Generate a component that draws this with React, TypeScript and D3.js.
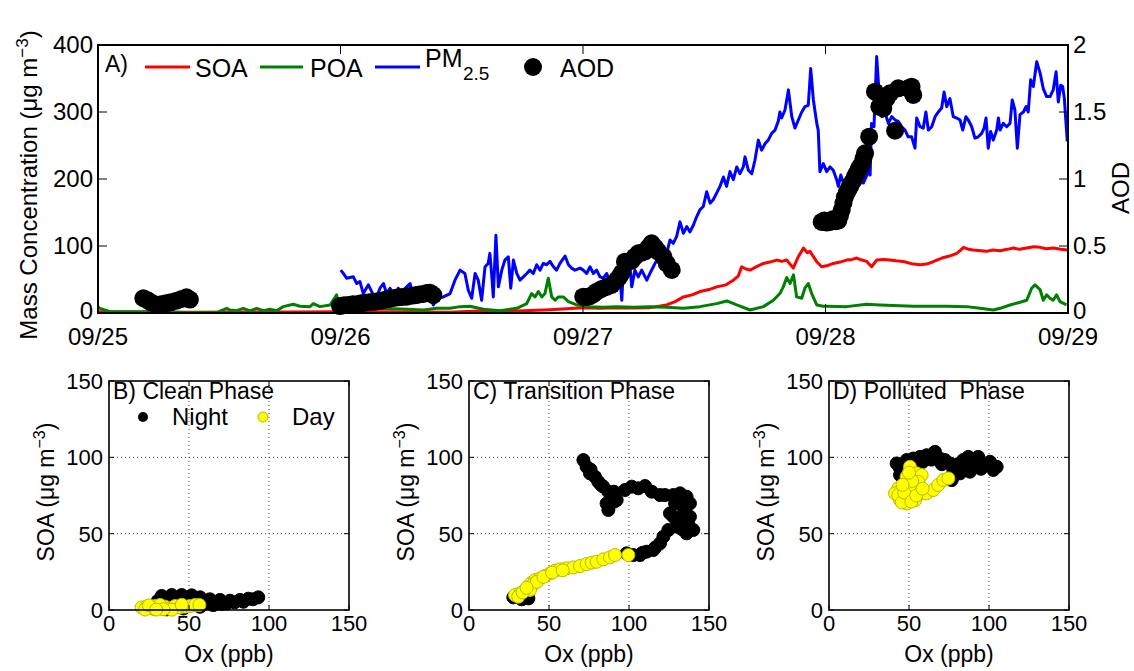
import React from 'react';
import * as d3 from 'd3';

// ---------- DATA ----------
const dateLabels = ['09/25', '09/26', '09/27', '09/28', '09/29'];
const massTicks = [0, 100, 200, 300, 400];
const aodTicks = [0, 0.5, 1, 1.5, 2];
const scatterTicks = [0, 50, 100, 150];

// [days since 09/25 00:00, µg m-3]
const pm25: [number, number][] = [
  [1.001, 64], [1.012, 59], [1.025, 52], [1.053, 54], [1.067, 44], [1.08, 47], [1.094, 29], [1.115, 42],
  [1.135, 27], [1.149, 24], [1.163, 37], [1.177, 44], [1.19, 29], [1.204, 37], [1.225, 24], [1.238, 37],
  [1.252, 32], [1.273, 39], [1.287, 44], [1.301, 24], [1.321, 19], [1.342, 22], [1.362, 29], [1.383, 12],
  [1.397, 22], [1.424, 24], [1.452, 29], [1.472, 49], [1.493, 64], [1.513, 59], [1.527, 34], [1.541, 22],
  [1.555, 59], [1.568, 49], [1.582, 19], [1.596, 69], [1.609, 74], [1.616, 89], [1.623, 59], [1.63, 24],
  [1.641, 116], [1.651, 39], [1.665, 64], [1.678, 79], [1.692, 84], [1.702, 37], [1.713, 79], [1.727, 59],
  [1.74, 49], [1.754, 54], [1.768, 59], [1.781, 64], [1.795, 59], [1.809, 72], [1.823, 64], [1.836, 74],
  [1.85, 72], [1.864, 77], [1.878, 69], [1.891, 64], [1.905, 74], [1.926, 85], [1.94, 72], [1.953, 67],
  [1.967, 64], [1.988, 67], [2.001, 64], [2.015, 59], [2.029, 69], [2.043, 59], [2.056, 64], [2.07, 54],
  [2.084, 52], [2.098, 59], [2.111, 44], [2.125, 49], [2.139, 59], [2.153, 49], [2.16, 19], [2.166, 64],
  [2.18, 59], [2.194, 69], [2.201, 39], [2.214, 64], [2.228, 54], [2.242, 64], [2.256, 54], [2.263, 49],
  [2.276, 59], [2.29, 69], [2.304, 79], [2.318, 84], [2.331, 84], [2.345, 89], [2.359, 109], [2.372, 104],
  [2.386, 114], [2.4, 136], [2.414, 119], [2.428, 129], [2.441, 121], [2.455, 131], [2.469, 144], [2.482, 154],
  [2.496, 159], [2.51, 181], [2.524, 164], [2.537, 169], [2.551, 179], [2.565, 189], [2.579, 203], [2.592, 189],
  [2.606, 211], [2.62, 199], [2.634, 218], [2.647, 208], [2.661, 218], [2.668, 233], [2.682, 213], [2.696, 208],
  [2.709, 228], [2.723, 258], [2.737, 243], [2.751, 253], [2.764, 258], [2.778, 268], [2.792, 273], [2.805, 286],
  [2.812, 300], [2.819, 291], [2.833, 303], [2.847, 333], [2.861, 293], [2.874, 276], [2.888, 288], [2.902, 300],
  [2.915, 308], [2.929, 310], [2.939, 365], [2.95, 318], [2.964, 283], [2.97, 273], [2.977, 211], [2.991, 223],
  [3.005, 211], [3.019, 218], [3.032, 213], [3.046, 199], [3.053, 189], [3.063, 206], [3.074, 194], [3.087, 189],
  [3.101, 199], [3.115, 189], [3.129, 196], [3.142, 203], [3.156, 194], [3.177, 211], [3.184, 206], [3.19, 283],
  [3.2, 278], [3.211, 383], [3.222, 323], [3.232, 293], [3.245, 300], [3.259, 283], [3.273, 293], [3.287, 288],
  [3.3, 286], [3.314, 278], [3.328, 273], [3.341, 263], [3.355, 263], [3.369, 246], [3.376, 291], [3.39, 278],
  [3.403, 276], [3.414, 300], [3.424, 273], [3.438, 278], [3.452, 293], [3.465, 300], [3.479, 306], [3.489, 330],
  [3.5, 308], [3.513, 320], [3.527, 293], [3.541, 291], [3.555, 288], [3.566, 273], [3.579, 293], [3.589, 288],
  [3.603, 278], [3.616, 261], [3.63, 263], [3.644, 268], [3.654, 276], [3.662, 291], [3.671, 246], [3.681, 271],
  [3.692, 258], [3.706, 273], [3.713, 291], [3.72, 273], [3.733, 283], [3.747, 278], [3.761, 283], [3.77, 318],
  [3.781, 303], [3.791, 246], [3.802, 296], [3.816, 300], [3.827, 308], [3.836, 300], [3.846, 348], [3.857, 338],
  [3.871, 375], [3.885, 358], [3.898, 335], [3.912, 323], [3.926, 323], [3.939, 333], [3.951, 360], [3.96, 315],
  [3.97, 340], [3.978, 338], [3.985, 320], [3.997, 256],
];

const soa: [number, number][] = [
  [0, 2], [0.2, 1.5], [0.4, 1], [0.6, 1.5], [0.8, 1.5], [1.0, 2], [1.2, 2], [1.452, 1], [1.589, 3.5], [1.727, 3],
  [1.864, 5], [2.001, 8], [2.07, 7], [2.139, 8], [2.21, 7.5], [2.276, 8], [2.345, 12], [2.38, 17], [2.414, 24],
  [2.45, 27], [2.482, 32], [2.52, 35], [2.551, 39], [2.59, 42], [2.62, 49], [2.64, 55], [2.654, 69], [2.67, 66],
  [2.689, 64], [2.72, 70], [2.744, 74], [2.77, 76], [2.799, 79], [2.82, 77], [2.84, 79], [2.867, 67], [2.888, 84],
  [2.909, 97], [2.925, 90], [2.936, 92], [2.963, 77], [2.984, 69], [3.01, 71], [3.032, 74], [3.06, 76], [3.087, 79],
  [3.11, 80], [3.129, 82], [3.15, 79], [3.17, 77], [3.19, 69], [3.211, 79], [3.24, 80], [3.266, 79], [3.29, 78],
  [3.321, 77], [3.34, 75], [3.362, 73], [3.39, 72], [3.417, 73], [3.44, 76], [3.459, 79], [3.48, 82], [3.5, 84],
  [3.52, 86], [3.541, 89], [3.555, 93], [3.569, 98], [3.59, 95], [3.609, 94], [3.64, 93], [3.664, 92], [3.69, 94],
  [3.72, 93], [3.75, 95], [3.775, 97], [3.80, 95], [3.83, 97], [3.86, 99], [3.885, 98], [3.91, 96], [3.94, 97],
  [3.97, 95], [3.997, 94],
];

const poa: [number, number][] = [
  [0, 9], [0.008, 7], [0.049, 2], [0.104, 2], [0.242, 2], [0.379, 0.5], [0.489, 0.5], [0.531, 7], [0.544, 4.5],
  [0.572, 3.5], [0.599, 7], [0.627, 3], [0.654, 7], [0.682, 3.5], [0.709, 5.5], [0.737, 3.5], [0.764, 9.5],
  [0.805, 13], [0.833, 10], [0.874, 9.5], [0.888, 14], [0.915, 9.5], [0.957, 12], [0.984, 27], [0.991, 14],
  [1.05, 8], [1.15, 7], [1.25, 6], [1.342, 4.5], [1.397, 7], [1.452, 7], [1.493, 9.5], [1.534, 10], [1.589, 5.5],
  [1.658, 3.5], [1.727, 7], [1.768, 14], [1.788, 29], [1.802, 24], [1.816, 32], [1.83, 24], [1.843, 29],
  [1.857, 52], [1.871, 24], [1.885, 19], [1.898, 24], [1.919, 24], [1.94, 17], [1.974, 12], [2.029, 9.5],
  [2.084, 8.5], [2.139, 9.5], [2.208, 8.5], [2.276, 9.5], [2.345, 8.5], [2.414, 7], [2.482, 9.5], [2.551, 14],
  [2.593, 18], [2.634, 12], [2.689, 4.5], [2.744, 9.5], [2.785, 19], [2.812, 29], [2.826, 39], [2.84, 53],
  [2.854, 44], [2.868, 57], [2.881, 24], [2.902, 22], [2.915, 37], [2.929, 44], [2.943, 29], [2.964, 12],
  [2.991, 10], [3.005, 10], [3.087, 9.5], [3.17, 13], [3.225, 12], [3.362, 10], [3.5, 10], [3.582, 9.5],
  [3.637, 7], [3.692, 4.5], [3.72, 7], [3.761, 12], [3.802, 16], [3.83, 19], [3.85, 37], [3.864, 42],
  [3.885, 35], [3.898, 19], [3.912, 27], [3.926, 22], [3.939, 19], [3.953, 27], [3.967, 17], [3.994, 12],
];

// [days since 09/25 00:00, AOD]
const aod: [number, number][] = [
  [0.187, 0.11], [0.205, 0.095], [0.222, 0.075], [0.242, 0.062], [0.26, 0.065], [0.28, 0.072], [0.3, 0.08],
  [0.324, 0.092], [0.345, 0.105], [0.365, 0.117], [0.379, 0.1],
  [0.998, 0.052], [1.015, 0.058], [1.032, 0.06], [1.05, 0.066], [1.067, 0.065], [1.085, 0.072], [1.101, 0.077],
  [1.118, 0.08], [1.135, 0.082], [1.152, 0.088], [1.17, 0.092], [1.187, 0.1], [1.204, 0.107], [1.221, 0.112],
  [1.238, 0.117], [1.255, 0.12], [1.273, 0.122], [1.29, 0.128], [1.307, 0.132], [1.325, 0.138], [1.342, 0.142],
  [1.355, 0.15], [1.369, 0.152], [1.383, 0.134],
  [2.001, 0.122], [2.015, 0.12], [2.029, 0.125], [2.043, 0.14], [2.056, 0.159], [2.077, 0.18], [2.098, 0.195],
  [2.118, 0.21], [2.139, 0.246], [2.15, 0.27], [2.16, 0.3], [2.173, 0.383], [2.187, 0.385], [2.201, 0.39],
  [2.214, 0.42], [2.228, 0.445], [2.242, 0.45], [2.256, 0.46], [2.27, 0.49], [2.283, 0.52], [2.297, 0.49],
  [2.31, 0.458], [2.331, 0.42], [2.345, 0.371], [2.366, 0.321],
  [2.984, 0.68], [2.995, 0.69], [3.005, 0.675], [3.019, 0.68], [3.03, 0.7], [3.042, 0.685], [3.053, 0.69],
  [3.06, 0.73], [3.067, 0.77], [3.074, 0.82], [3.08, 0.865], [3.088, 0.9], [3.094, 0.92], [3.101, 0.943],
  [3.108, 0.97], [3.115, 0.99], [3.122, 1.02], [3.129, 1.042], [3.136, 1.07], [3.142, 1.09], [3.149, 1.104],
  [3.156, 1.15], [3.163, 1.192], [3.18, 1.316], [3.204, 1.652], [3.222, 1.54], [3.238, 1.527], [3.252, 1.602],
  [3.266, 1.639], [3.287, 1.361], [3.3, 1.677], [3.341, 1.677], [3.355, 1.689], [3.362, 1.627],
];

// scatter: [Ox ppb, SOA µg m-3]
const cleanNight: [number, number][] = [
  [32.9, 9.2], [39.2, 9.8], [45.4, 9.8], [51.7, 9.6], [56.9, 8.3], [63.1, 7.0], [69.4, 6.6], [75.6, 6.1],
  [81.9, 6.6], [87.1, 7.4], [93.3, 8.3], [27.7, 1.0], [36.0, 0.4], [46.5, 1.0], [56.9, 2.1], [65.2, 3.2],
  [73.5, 4.3], [84.0, 5.4], [67.3, 5.4], [56.9, 5.4], [48.5, 5.4], [30.5, 6.0], [36.5, 7.0], [42.5, 7.5],
  [48.0, 8.0], [53.5, 6.5], [60.0, 4.5], [70.5, 4.0], [78.5, 5.0], [90.0, 7.0], [40.0, 4.0], [34.0, 3.5],
  [62.0, 6.2], [44.0, 2.5], [52.0, 3.5],
];
const cleanDay: [number, number][] = [
  [20.4, 1.7], [23.5, 2.2], [26.7, 1.1], [28.8, 2.6], [31.9, 1.1], [35.0, 2.2], [38.1, 1.1], [41.3, 2.6],
  [44.4, 1.7], [47.5, 2.2], [50.6, 2.6], [53.8, 3.3], [56.5, 3.3], [39.2, 0.2], [31.9, 3.3], [22.5, 0.3],
  [25.0, 3.0], [34.0, 0.5], [45.5, 3.4], [29.5, 0.3],
];
const transNight: [number, number][] = [
  [71.5, 98.2], [73.5, 93.8], [75.6, 89.5], [78.75, 87.3], [80.8, 84.0], [83.9, 80.8], [87.1, 77.5], [90.6, 77.5],
  [92.3, 72.0], [86.0, 69.8], [87.1, 65.5], [90.6, 70.9], [97.5, 78.6], [101.7, 80.8], [105.8, 79.7], [110.0, 81.2],
  [114.2, 77.5], [119.4, 75.3], [122.5, 75.3], [127.7, 75.3], [131.9, 76.4], [136.0, 74.2], [138.1, 69.8],
  [134.4, 64.4], [138.1, 61.1], [140.2, 52.4], [136.0, 50.2], [131.9, 58.9], [127.7, 61.1], [125.6, 63.3],
  [128.8, 69.8], [129.8, 54.6], [124.6, 52.4], [121.5, 48.0], [119.4, 43.7], [115.2, 39.3], [111.0, 38.2],
  [106.9, 36.0], [102.7, 36.0], [98.5, 37.1], [27.7, 8.3], [32.9, 7.0], [37.1, 7.6], [76.0, 92.0], [82.5, 82.0],
  [133.5, 71.5], [137.0, 57.0], [133.0, 53.0], [116.5, 41.0], [108.5, 37.5],
];
const transDay: [number, number][] = [
  [28.75, 9.8], [31.9, 10.9], [35.0, 13.1], [37.1, 15.3], [39.2, 17.9], [41.3, 19.6], [44.4, 20.7], [47.5, 22.3],
  [50.6, 24.0], [53.8, 25.8], [56.9, 26.6], [61.0, 27.3], [65.2, 27.9], [69.4, 28.8], [73.5, 30.1], [76.7, 31.0],
  [79.8, 31.6], [83.9, 33.2], [88.1, 34.5], [91.25, 36.0], [99.6, 36.0], [40.2, 17.0], [38.1, 13.1], [30.8, 8.7],
  [42.3, 18.4], [46.5, 21.7], [33.5, 11.5], [36.0, 14.5], [52.0, 24.5], [58.5, 26.0],
];
const pollNight: [number, number][] = [
  [42.3, 96.0], [44.4, 88.4], [48.5, 98.2], [52.7, 99.2], [56.9, 100.3], [61.0, 101.4], [66.25, 103.6], [69.4, 99.2],
  [72.5, 98.2], [75.6, 96.0], [77.7, 91.7], [76.7, 85.1], [79.8, 93.8], [83.9, 98.2], [87.1, 100.3], [90.2, 98.2],
  [93.3, 100.3], [96.5, 96.0], [100.6, 97.1], [104.8, 93.8], [102.7, 91.7], [88.1, 90.6], [81.9, 89.5], [44.4, 92.7],
  [53.75, 96.0], [46.5, 95.0], [58.5, 97.0], [64.0, 98.5], [70.5, 95.5], [80.5, 95.5], [85.5, 96.0], [92.0, 96.5],
  [98.0, 95.0], [95.0, 92.5], [86.0, 93.5], [78.5, 88.5],
];
const pollDay: [number, number][] = [
  [43.3, 79.7], [41.25, 76.4], [44.4, 72.0], [48.5, 69.8], [50.6, 74.2], [49.6, 80.8], [48.5, 87.3], [50.6, 93.8],
  [54.8, 89.5], [57.9, 88.4], [55.8, 84.0], [52.7, 78.6], [56.9, 76.4], [61.0, 76.4], [65.2, 78.6], [68.3, 81.9],
  [71.5, 85.1], [74.6, 86.2], [46.5, 74.2], [53.75, 72.0], [43.3, 75.3], [45.5, 70.5], [47.0, 77.0], [51.5, 71.0],
  [54.5, 75.0], [58.5, 79.5], [52.0, 84.5], [50.0, 90.0], [46.0, 82.0],
];

// ---------- DRAWING ----------
const FONT = "'Liberation Sans', Arial, Helvetica, sans-serif";
const YELLOW = '#ffff00';
const YELLOW_EDGE = '#b8b800';

const TOP = { l: 98, r: 1068, t: 45, b: 313 };
const SC = { t: 381, b: 610, w: 240 };
const SC_LEFTS = [109, 469, 829];

function TopPanel() {
  const x = d3.scaleLinear().domain([0, 4]).range([TOP.l, TOP.r]);
  const yL = d3.scaleLinear().domain([0, 400]).range([TOP.b, TOP.t]);
  const yR = d3.scaleLinear().domain([0, 2]).range([TOP.b, TOP.t]);
  const line = d3.line<[number, number]>().x((d) => x(d[0])).y((d) => yL(d[1]));
  const tl = 9;
  return (
    <g>
      <defs>
        <clipPath id="topclip">
          <rect x={TOP.l} y={TOP.t} width={TOP.r - TOP.l} height={TOP.b - TOP.t} />
        </clipPath>
      </defs>
      <g clipPath="url(#topclip)">
        <path d={line(soa) || ''} fill="none" stroke="#ff0000" strokeWidth={3} strokeLinejoin="round" />
        <path d={line(poa) || ''} fill="none" stroke="#008000" strokeWidth={3} strokeLinejoin="round" />
        <path d={line(pm25) || ''} fill="none" stroke="#0000ff" strokeWidth={3} strokeLinejoin="round" />
      </g>
      {aod.map((d, i) => (
        <circle key={i} cx={x(d[0])} cy={yR(d[1])} r={9} fill="#000" />
      ))}
      {/* box */}
      <rect x={TOP.l} y={TOP.t} width={TOP.r - TOP.l} height={TOP.b - TOP.t} fill="none" stroke="#000" strokeWidth={2} />
      {/* left ticks */}
      {massTicks.map((v) => (
        <g key={'m' + v}>
          <line x1={TOP.l} x2={TOP.l + tl} y1={yL(v)} y2={yL(v)} stroke="#000" strokeWidth={1} />
          <text x={TOP.l - 5} y={yL(v) + (v === 0 ? 6 : 8)} textAnchor="end" fontSize={24} fontFamily={FONT}>{v}</text>
        </g>
      ))}
      {/* right ticks */}
      {aodTicks.map((v) => (
        <g key={'a' + v}>
          <line x1={TOP.r} x2={TOP.r - tl} y1={yR(v)} y2={yR(v)} stroke="#000" strokeWidth={1} />
          <text x={TOP.r + 5} y={yR(v) + (v === 0 ? 6 : 8)} textAnchor="start" fontSize={24} fontFamily={FONT}>{String(v)}</text>
        </g>
      ))}
      {/* date ticks */}
      {dateLabels.map((lab, i) => (
        <g key={lab}>
          <line x1={x(i)} x2={x(i)} y1={TOP.b} y2={TOP.b - tl} stroke="#000" strokeWidth={1} />
          <line x1={x(i)} x2={x(i)} y1={TOP.t} y2={TOP.t + tl} stroke="#000" strokeWidth={1} />
          <text x={x(i)} y={345} textAnchor="middle" fontSize={24} fontFamily={FONT}>{lab}</text>
        </g>
      ))}
      {/* axis labels */}
      <text transform="translate(37,185) rotate(-90)" textAnchor="middle" fontSize={24} fontFamily={FONT}>
        Mass Concentration (μg m<tspan dy={-9} fontSize={17}>−3</tspan><tspan dy={9}>)</tspan>
      </text>
      <text transform="translate(1129,188) rotate(-90)" textAnchor="middle" fontSize={24} fontFamily={FONT}>AOD</text>
      {/* legend */}
      <text x={105} y={72} fontSize={23} fontFamily={FONT}>A)</text>
      <line x1={145} x2={190} y1={67} y2={67} stroke="#ff0000" strokeWidth={3} />
      <text x={195} y={77} fontSize={25} fontFamily={FONT}>SOA</text>
      <line x1={260} x2={303} y1={67} y2={67} stroke="#008000" strokeWidth={3} />
      <text x={310} y={77} fontSize={25} fontFamily={FONT}>POA</text>
      <line x1={375} x2={420} y1={67} y2={67} stroke="#0000ff" strokeWidth={3} />
      <text x={425} y={67} fontSize={25} fontFamily={FONT}>PM</text>
      <text x={463} y={80} fontSize={19} fontFamily={FONT}>2.5</text>
      <circle cx={533} cy={67} r={9} fill="#000" />
      <text x={560} y={77} fontSize={25} fontFamily={FONT}>AOD</text>
    </g>
  );
}

function ScatterPanel({ left, title, night, day, legend }: {
  left: number; title: string; night: [number, number][]; day: [number, number][]; legend?: boolean;
}) {
  const x = d3.scaleLinear().domain([0, 150]).range([left, left + SC.w]);
  const y = d3.scaleLinear().domain([0, 150]).range([SC.b, SC.t]);
  const tl = 5;
  return (
    <g>
      {/* grid */}
      {[50, 100].map((v) => (
        <g key={'g' + v}>
          <line x1={x(v)} x2={x(v)} y1={SC.t} y2={SC.b} stroke="#444" strokeWidth={1} strokeDasharray="1,3" />
          <line x1={left} x2={left + SC.w} y1={y(v)} y2={y(v)} stroke="#444" strokeWidth={1} strokeDasharray="1,3" />
        </g>
      ))}
      {night.map((d, i) => (
        <circle key={'n' + i} cx={x(d[0])} cy={y(d[1])} r={6.5} fill="#000" stroke="#000" strokeWidth={1} />
      ))}
      {day.map((d, i) => (
        <circle key={'d' + i} cx={x(d[0])} cy={y(d[1])} r={6.5} fill={YELLOW} stroke={YELLOW_EDGE} strokeWidth={1} />
      ))}
      <rect x={left} y={SC.t} width={SC.w} height={SC.b - SC.t} fill="none" stroke="#000" strokeWidth={1.6} />
      {scatterTicks.map((v) => (
        <g key={'t' + v}>
          <line x1={x(v)} x2={x(v)} y1={SC.b} y2={SC.b - tl} stroke="#000" />
          <line x1={x(v)} x2={x(v)} y1={SC.t} y2={SC.t + tl} stroke="#000" />
          <line x1={left} x2={left + tl} y1={y(v)} y2={y(v)} stroke="#000" />
          <line x1={left + SC.w} x2={left + SC.w - tl} y1={y(v)} y2={y(v)} stroke="#000" />
          <text x={x(v)} y={631} textAnchor="middle" fontSize={22} fontFamily={FONT}>{v}</text>
          <text x={left - 6} y={y(v) + 8} textAnchor="end" fontSize={22} fontFamily={FONT}>{v}</text>
        </g>
      ))}
      <text x={left + SC.w / 2} y={662} textAnchor="middle" fontSize={23} fontFamily={FONT}>Ox (ppb)</text>
      <text transform={`translate(${left - 55},492) rotate(-90)`} textAnchor="middle" fontSize={23} fontFamily={FONT}>
        SOA (μg m<tspan dy={-9} fontSize={16}>−3</tspan><tspan dy={9}>)</tspan>
      </text>
      <text x={left + 4} y={399} fontSize={23} fontFamily={FONT} style={{ whiteSpace: 'pre' }}>{title}</text>
      {legend && (
        <g>
          <circle cx={left + 34} cy={417} r={5} fill="#000" />
          <text x={left + 63} y={425} fontSize={24} fontFamily={FONT}>Night</text>
          <circle cx={left + 154} cy={417} r={5} fill={YELLOW} stroke={YELLOW_EDGE} />
          <text x={left + 183} y={425} fontSize={24} fontFamily={FONT}>Day</text>
        </g>
      )}
    </g>
  );
}

export default function App() {
  return (
    <svg width={1134} height={671} style={{ position: 'absolute', left: 0, top: 0, background: '#fff' }}>
      <rect width={1134} height={671} fill="#fff" />
      <TopPanel />
      <ScatterPanel left={SC_LEFTS[0]} title="B) Clean Phase" night={cleanNight} day={cleanDay} legend />
      <ScatterPanel left={SC_LEFTS[1]} title="C) Transition Phase" night={transNight} day={transDay} />
      <ScatterPanel left={SC_LEFTS[2]} title={'D) Polluted  Phase'} night={pollNight} day={pollDay} />
    </svg>
  );
}
